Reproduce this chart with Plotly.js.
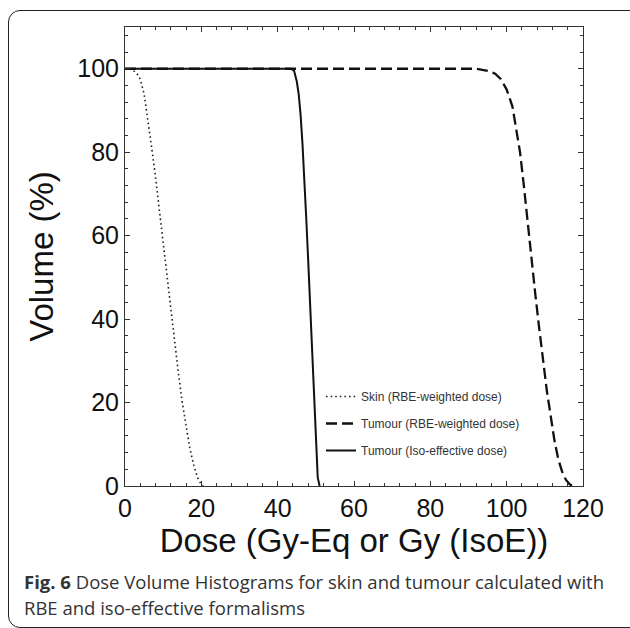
<!DOCTYPE html>
<html>
<head>
<meta charset="utf-8">
<script src="https://cdn.plot.ly/plotly-3.0.1.min.js"></script>
<style>
  html, body { margin: 0; padding: 0; background: #fff; }
  #wrap { position: relative; width: 630px; height: 628px; overflow: hidden; }
  #frame { position: absolute; left: 8px; top: 10px; width: 640px; height: 618px;
           border: 1.5px solid #222; border-radius: 12px; box-sizing: border-box; }
  #chart { position: absolute; left: 0; top: 0; width: 630px; height: 628px; }
</style>
</head>
<body>
<div id="wrap">
  <div id="frame"></div>
  <div id="chart"></div>
</div>
<script>
// Skin (RBE-weighted dose)
const skinDose   = [0, 1.5, 3, 4, 5, 6, 7, 8, 9, 10, 11, 12, 13, 14, 15, 16, 17, 18, 19, 20, 20.5];
const skinVolume = [100, 100, 99, 97.5, 94, 88, 81, 74, 66, 58, 50, 42, 34, 27, 20, 14, 9, 5, 2, 0.3, 0];

// Tumour (RBE-weighted dose)
const tumRbeDose   = [0, 92, 95, 97, 98.5, 100, 101.5, 102.5, 103.5, 104.5, 105.5, 106.5, 107.5, 108.5, 109.5, 110.5, 111.5, 112.5, 113.5, 114.5, 115.5, 116.5, 117.3];
const tumRbeVolume = [100, 100, 99.5, 98.8, 97.5, 95, 91, 86, 80, 72, 63, 54, 46, 38, 30, 23, 17, 11, 6.5, 3.5, 1.5, 0.4, 0];

// Tumour (Iso-effective dose)
const tumIsoDose   = [0, 43.5, 44.3, 45, 45.5, 46, 46.5, 47, 47.5, 48, 48.5, 49, 49.5, 50, 50.5, 51];
const tumIsoVolume = [100, 100, 99.5, 97, 94, 89, 82, 74, 64, 54, 43, 32, 20, 9, 2, 0];

const seriesNames = ['Skin (RBE-weighted dose)', 'Tumour (RBE-weighted dose)', 'Tumour (Iso-effective dose)'];
const xTitle = 'Dose (Gy-Eq or Gy (IsoE))';
const yTitle = 'Volume (%)';
const captionBold = 'Fig. 6';
const captionLine1 = ' Dose Volume Histograms for skin and tumour calculated with';
const captionLine2 = 'RBE and iso-effective formalisms';

const traces = [
  { x: skinDose, y: skinVolume, name: seriesNames[0], mode: 'lines', legendgroup: 'a',
    line: { color: '#222', width: 1.6, dash: '1.6px,3px' } },
  { x: tumRbeDose, y: tumRbeVolume, name: seriesNames[1], mode: 'lines', legendgroup: 'b',
    line: { color: '#111', width: 2.3, dash: '11px,5px' } },
  { x: tumIsoDose, y: tumIsoVolume, name: seriesNames[2], mode: 'lines', legendgroup: 'c',
    line: { color: '#111', width: 2 } }
];

const axisCommon = {
  showgrid: false, zeroline: false, showline: true, linecolor: '#333', linewidth: 1,
  mirror: 'ticks', ticks: 'inside', ticklen: 5, tickcolor: '#333', tickwidth: 1,
  minor: { dtick: 4, ticks: 'inside', ticklen: 3, tickcolor: '#333', tickwidth: 1, showgrid: false },
  tickfont: { size: 25, color: '#111' }, automargin: false
};

const PL = 125, PT = 27, PB = 486, PR = 583;
const PW = PR - PL, PH = PB - PT;

const layout = {
  width: 630, height: 628,
  margin: { l: PL, r: 630 - PR, t: PT, b: 628 - PB },
  paper_bgcolor: 'rgba(0,0,0,0)', plot_bgcolor: '#fff',
  font: { family: 'Liberation Sans, Arial, sans-serif', color: '#111' },
  showlegend: true,
  legend: { x: (321 - PL) / PW, y: (PB - 382) / PH, xanchor: 'left', yanchor: 'top', bgcolor: 'rgba(0,0,0,0)',
            font: { size: 12, color: '#333' }, traceorder: 'grouped', tracegroupgap: 8 },
  xaxis: Object.assign({}, axisCommon, { range: [0, 120], dtick: 20, tick0: 0,
            title: { text: xTitle, font: { size: 33 }, standoff: 4 } }),
  yaxis: Object.assign({}, axisCommon, { range: [0, 110], dtick: 20, tick0: 0,
            title: { text: yTitle, font: { size: 33 }, standoff: 13 } }),
  annotations: [
    { xref: 'paper', yref: 'paper', x: (22 - PL) / PW, y: (PB - 581) / PH, xanchor: 'left', yanchor: 'middle',
      showarrow: false, align: 'left',
      text: '<b>' + captionBold + '</b>' + captionLine1,
      font: { family: 'Open Sans, Noto Sans, sans-serif', size: 18.5, color: '#333' } },
    { xref: 'paper', yref: 'paper', x: (22 - PL) / PW, y: (PB - 607) / PH, xanchor: 'left', yanchor: 'middle',
      showarrow: false, align: 'left',
      text: captionLine2,
      font: { family: 'Open Sans, Noto Sans, sans-serif', size: 18.5, color: '#333' } }
  ]
};

Plotly.newPlot('chart', traces, layout, { displayModeBar: false, staticPlot: true });
</script>
</body>
</html>
